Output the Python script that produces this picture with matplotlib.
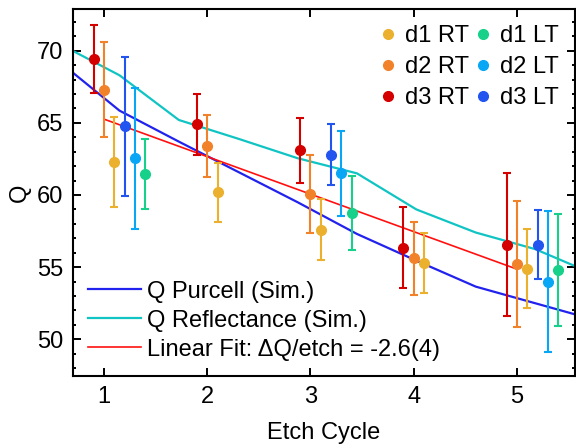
import numpy as np
import matplotlib
matplotlib.use('Agg')
import matplotlib.pyplot as plt
from matplotlib.lines import Line2D
from matplotlib.ticker import MultipleLocator

plt.rcParams['font.family'] = ['Liberation Sans', 'DejaVu Sans']

# measured Q per etch cycle (value, symmetric error)
rt_cycles = [1, 2, 3, 4, 5]
d1_rt_q = [62.3, 60.2, 57.6, 55.3, 54.9]
d1_rt_err = [3.1, 2.05, 2.1, 2.1, 2.75]
d2_rt_q = [67.3, 63.4, 60.05, 55.6, 55.2]
d2_rt_err = [3.3, 2.15, 2.7, 2.55, 4.35]
d3_rt_q = [69.4, 64.9, 63.1, 56.35, 56.55]
d3_rt_err = [2.35, 2.1, 2.25, 2.8, 4.95]

lt_cycles = [1, 3, 5]
d1_lt_q = [61.45, 58.75, 54.8]
d1_lt_err = [2.4, 2.55, 3.9]
d2_lt_q = [62.55, 61.5, 54.0]
d2_lt_err = [4.9, 2.95, 4.9]
d3_lt_q = [64.75, 62.8, 56.55]
d3_lt_err = [4.8, 2.1, 2.4]

# simulations
sim_cycle = [0.575, 1.15, 1.725, 2.3, 2.875, 3.45, 4.025, 4.6, 5.175, 5.75]
q_purcell = [69.2, 65.85, 63.7, 61.6, 59.5, 57.3, 55.45, 53.65, 52.5, 51.35]
q_reflect = [70.45, 68.3, 65.2, 63.9, 62.55, 61.5, 59.0, 57.4, 56.25, 54.5]

# linear fit
fit_range = [1, 5]
fit_slope = -2.6
fit_q_at_1 = 65.26

series = [
    ('d1 RT', rt_cycles, d1_rt_q, d1_rt_err, 0.1, '#EBB12E'),
    ('d2 RT', rt_cycles, d2_rt_q, d2_rt_err, 0.0, '#F28229'),
    ('d3 RT', rt_cycles, d3_rt_q, d3_rt_err, -0.1, '#D40000'),
    ('d1 LT', lt_cycles, d1_lt_q, d1_lt_err, 0.4, '#17D18A'),
    ('d2 LT', lt_cycles, d2_lt_q, d2_lt_err, 0.3, '#07A7F5'),
    ('d3 LT', lt_cycles, d3_lt_q, d3_lt_err, 0.2, '#2254F0'),
]

FS = 17

fig = plt.figure(figsize=(5.76, 4.44), dpi=100)
ax = fig.add_axes([0.1267, 0.153, 0.8713, 0.827])

l1, = ax.plot(sim_cycle, q_purcell, color='#2222EE', lw=1.6, label='Q Purcell (Sim.)')
l2, = ax.plot(sim_cycle, q_reflect, color='#11C4C4', lw=1.6, label='Q Reflectance (Sim.)')
fx = np.array(fit_range, dtype=float)
l3, = ax.plot(fx, fit_q_at_1 + fit_slope * (fx - 1), color='#FF1010', lw=1.2,
              label='Linear Fit: ΔQ/etch = -2.6(4)')

marker_handles = []
for name, cyc, q, err, off, col in series:
    x = np.array(cyc) + off
    ax.errorbar(x, q, yerr=err, fmt='o', color=col, ms=7, elinewidth=1.5,
                capsize=3.2, capthick=1.5, zorder=3)
    marker_handles.append(Line2D([], [], marker='o', ls='none', color=col, ms=7, label=name))

ax.set_xlim(0.7, 5.56)
ax.set_ylim(47.45, 72.9)
ax.set_xticks([1, 2, 3, 4, 5])
ax.set_yticks([50, 55, 60, 65, 70])
ax.yaxis.set_minor_locator(MultipleLocator(1))
ax.tick_params(which='both', direction='in', top=True, right=True, width=1.4, labelsize=FS)
ax.tick_params(which='major', length=6, pad=7)
ax.tick_params(which='minor', length=2.5)
for s in ax.spines.values():
    s.set_linewidth(1.5)

ax.set_xlabel('Etch Cycle', fontsize=FS, labelpad=10)
ax.set_ylabel('Q', fontsize=FS, labelpad=4)

leg1 = ax.legend(handles=marker_handles, loc='upper right', ncol=2, frameon=False,
                 fontsize=FS, handlelength=0.7, handletextpad=0.35, columnspacing=0.25,
                 labelspacing=0.37, borderaxespad=0.4, borderpad=0.3)
ax.add_artist(leg1)
ax.legend(handles=[l1, l2, l3], loc='lower left', frameon=False, fontsize=FS,
          handlelength=2.25, handletextpad=0.25, labelspacing=0.3, borderaxespad=0.25,
          borderpad=0.4)

fig.savefig('out.png', dpi=100)
